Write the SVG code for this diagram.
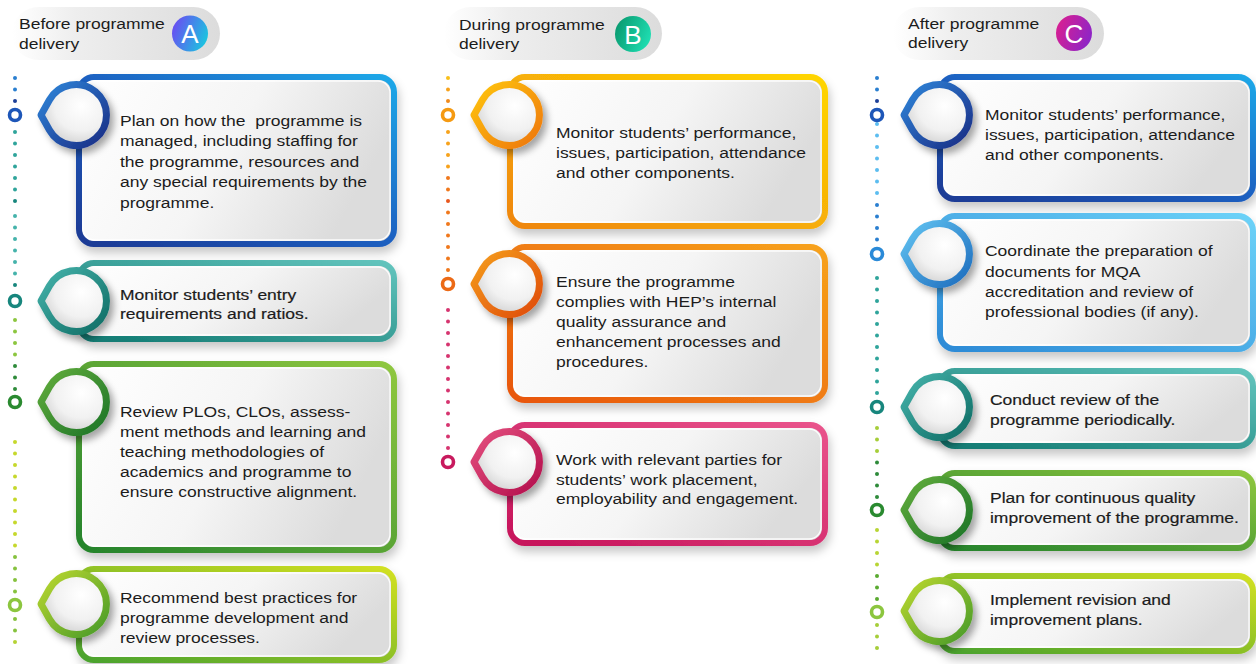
<svg xmlns="http://www.w3.org/2000/svg" xmlns:xlink="http://www.w3.org/1999/xlink" width="1256" height="664" viewBox="0 0 1256 664">
<defs>
<style>
.t{font-family:"Liberation Sans",Arial,sans-serif;font-size:15.5px;fill:#1c1c1c;transform:scaleX(1.13);transform-box:fill-box;transform-origin:0 0}
.b{stroke:#1c1c1c;stroke-width:0.2}
.card{fill:url(#cardFill);stroke-width:6;filter:url(#sh)}
.hl{fill:none;stroke:#ffffff;stroke-width:1.3;opacity:0.9}
.drop{fill:url(#dropFill);stroke-width:7;stroke-linejoin:round;filter:url(#dsh)}
.ring{fill:#ffffff;stroke-width:3.6}
.pill{fill:url(#pillFill)}
.lt{font-family:"Liberation Sans",Arial,sans-serif;font-size:26px;fill:#ffffff;text-anchor:middle}
</style>
<filter id="sh" x="-8%" y="-15%" width="120%" height="145%"><feDropShadow dx="2" dy="6" stdDeviation="5" flood-color="#000" flood-opacity="0.22"/></filter>
<filter id="dsh" x="-40%" y="-40%" width="190%" height="190%"><feDropShadow dx="4" dy="5" stdDeviation="3.5" flood-color="#000" flood-opacity="0.35"/></filter>
<linearGradient id="cardFill" x1="0" y1="0" x2="1" y2="0.3"><stop offset="0" stop-color="#ffffff"/><stop offset="0.55" stop-color="#f5f5f5"/><stop offset="1" stop-color="#dcdcdc"/></linearGradient>
<radialGradient id="dropFill" cx="0.62" cy="0.35" r="0.75"><stop offset="0" stop-color="#ffffff"/><stop offset="0.55" stop-color="#f1f1f1"/><stop offset="1" stop-color="#c8c8c8"/></radialGradient>
<linearGradient id="pillFill" x1="0" y1="0" x2="1" y2="0"><stop offset="0" stop-color="#ffffff"/><stop offset="0.3" stop-color="#eeeeee"/><stop offset="1" stop-color="#dcdcdc"/></linearGradient>
<linearGradient id="cA" x1="0" y1="0.3" x2="1" y2="0.7"><stop offset="0" stop-color="#6a4cf2"/><stop offset="1" stop-color="#19c8df"/></linearGradient>
<linearGradient id="cB" x1="0" y1="0.3" x2="1" y2="0.7"><stop offset="0" stop-color="#0a9a70"/><stop offset="1" stop-color="#1fe0b4"/></linearGradient>
<linearGradient id="cC" x1="0" y1="0.3" x2="1" y2="0.7"><stop offset="0" stop-color="#d81f92"/><stop offset="1" stop-color="#8a25c9"/></linearGradient>
<linearGradient id="gBlue" x1="0" y1="1" x2="1" y2="0"><stop offset="0" stop-color="#1b3a94"/><stop offset="0.5" stop-color="#1e5fc0"/><stop offset="1" stop-color="#1ea8e8"/></linearGradient>
<linearGradient id="dBlue" x1="0" y1="0" x2="1" y2="1"><stop offset="0" stop-color="#2f86da"/><stop offset="1" stop-color="#1a2c84"/></linearGradient>
<linearGradient id="gTeal" x1="0" y1="1" x2="1" y2="0"><stop offset="0" stop-color="#117a72"/><stop offset="1" stop-color="#62c4bd"/></linearGradient>
<linearGradient id="dTeal" x1="0" y1="0" x2="1" y2="1"><stop offset="0" stop-color="#45b3ab"/><stop offset="1" stop-color="#0f6c64"/></linearGradient>
<linearGradient id="gGreen" x1="0" y1="1" x2="1" y2="0"><stop offset="0" stop-color="#25832c"/><stop offset="1" stop-color="#8fc73f"/></linearGradient>
<linearGradient id="dGreen" x1="0" y1="0" x2="1" y2="1"><stop offset="0" stop-color="#62ad3c"/><stop offset="1" stop-color="#1c7428"/></linearGradient>
<linearGradient id="gLime" x1="0" y1="1" x2="1" y2="0"><stop offset="0" stop-color="#4aa22e"/><stop offset="1" stop-color="#d2e020"/></linearGradient>
<linearGradient id="dLime" x1="0" y1="0" x2="1" y2="1"><stop offset="0" stop-color="#bcd830"/><stop offset="1" stop-color="#479a2a"/></linearGradient>
<linearGradient id="gYel" x1="0" y1="1" x2="1" y2="0"><stop offset="0" stop-color="#ef860f"/><stop offset="1" stop-color="#ffd600"/></linearGradient>
<linearGradient id="dYel" x1="0" y1="0" x2="1" y2="1"><stop offset="0" stop-color="#ffc60f"/><stop offset="1" stop-color="#ee760c"/></linearGradient>
<linearGradient id="gOr" x1="0" y1="1" x2="1" y2="0"><stop offset="0" stop-color="#e8560c"/><stop offset="1" stop-color="#f7a21b"/></linearGradient>
<linearGradient id="dOr" x1="0" y1="0" x2="1" y2="1"><stop offset="0" stop-color="#f59e1d"/><stop offset="1" stop-color="#df4a0a"/></linearGradient>
<linearGradient id="gPink" x1="0" y1="1" x2="1" y2="0"><stop offset="0" stop-color="#c6135a"/><stop offset="1" stop-color="#e9538b"/></linearGradient>
<linearGradient id="dPink" x1="0" y1="0" x2="1" y2="1"><stop offset="0" stop-color="#e4507f"/><stop offset="1" stop-color="#b30f4c"/></linearGradient>
<linearGradient id="gSky" x1="0" y1="1" x2="1" y2="0"><stop offset="0" stop-color="#2c8ad6"/><stop offset="1" stop-color="#6cd2f8"/></linearGradient>
<linearGradient id="dSky" x1="0" y1="0" x2="1" y2="1"><stop offset="0" stop-color="#62c4f2"/><stop offset="1" stop-color="#1d6cbd"/></linearGradient>
<path id="drop" d="M-35 0L-26.6-15A30.5 30.5 0 1 1-26.6 15Z"/>
</defs>

<rect width="1256" height="664" fill="#ffffff"/>

<g id="headerA">
<rect class="pill" x="12" y="7" width="208" height="53" rx="26.5"/>
<text class="t" x="19"><tspan x="19" y="29.5">Before programme</tspan><tspan x="19" y="49">delivery</tspan></text>
<circle cx="190" cy="33.5" r="18" fill="url(#cA)"/>
<text class="lt" x="190" y="43">A</text>
</g>
<g id="headerB">
<rect class="pill" x="444" y="7" width="218" height="53" rx="26.5"/>
<text class="t" x="459"><tspan x="459" y="30">During programme</tspan><tspan x="459" y="49.5">delivery</tspan></text>
<circle cx="633" cy="34" r="18" fill="url(#cB)"/>
<text class="lt" x="633" y="43.5">B</text>
</g>
<g id="headerC">
<rect class="pill" x="893" y="7" width="211" height="53" rx="26.5"/>
<text class="t" x="908"><tspan x="908" y="29">After programme</tspan><tspan x="908" y="48.5">delivery</tspan></text>
<circle cx="1074" cy="33" r="18" fill="url(#cC)"/>
<text class="lt" x="1074" y="42.5">C</text>
</g>

<g id="connectors">
<g fill="#2a7fd0"><circle cx="15" cy="78" r="2"/><circle cx="15" cy="89.5" r="2"/><circle cx="15" cy="101" r="2" fill="#1d3f98"/></g>
<g fill="#2fa49b"><circle cx="15" cy="132" r="2"/><circle cx="15" cy="143.5" r="2"/><circle cx="15" cy="155" r="2"/><circle cx="15" cy="166.5" r="2"/><circle cx="15" cy="178" r="2"/><circle cx="15" cy="189.5" r="2"/><circle cx="15" cy="201" r="2" fill="#17867d"/></g>
<g fill="#45b3ab"><circle cx="15" cy="216" r="2"/><circle cx="15" cy="227.5" r="2"/><circle cx="15" cy="239" r="2"/><circle cx="15" cy="250.5" r="2"/><circle cx="15" cy="262" r="2"/><circle cx="15" cy="273.5" r="2"/><circle cx="15" cy="285" r="2" fill="#17867d"/></g>
<g fill="#8cc63f"><circle cx="15" cy="320" r="2"/><circle cx="15" cy="331.5" r="2"/><circle cx="15" cy="343" r="2"/><circle cx="15" cy="354.5" r="2"/></g>
<g fill="#2e8b3a"><circle cx="15" cy="366" r="2"/><circle cx="15" cy="377.5" r="2"/><circle cx="15" cy="389" r="2"/></g>
<g fill="#c6d82c"><circle cx="15" cy="442" r="2"/><circle cx="15" cy="453.5" r="2"/><circle cx="15" cy="465" r="2"/><circle cx="15" cy="476.5" r="2"/><circle cx="15" cy="488" r="2"/><circle cx="15" cy="499.5" r="2"/><circle cx="15" cy="511" r="2"/><circle cx="15" cy="522.5" r="2"/><circle cx="15" cy="534" r="2"/><circle cx="15" cy="545.5" r="2"/></g>
<g fill="#86c23e"><circle cx="15" cy="557" r="2"/><circle cx="15" cy="568.5" r="2"/><circle cx="15" cy="580" r="2"/><circle cx="15" cy="591.5" r="2"/><circle cx="15" cy="619" r="2"/><circle cx="15" cy="630.5" r="2"/><circle cx="15" cy="642" r="2" fill="#b5d334"/></g>
<circle class="ring" cx="15" cy="115" r="5.5" stroke="#1d56b8"/>
<circle class="ring" cx="15" cy="301" r="5.5" stroke="#17867d"/>
<circle class="ring" cx="15" cy="402" r="5.5" stroke="#2a8a30"/>
<circle class="ring" cx="15" cy="605" r="5.5" stroke="#8cc63f"/>

<g fill="#f9c01a"><circle cx="448" cy="78" r="2"/><circle cx="448" cy="89.5" r="2" fill="#f7a21b"/><circle cx="448" cy="101" r="2" fill="#f08a1a"/></g>
<g fill="#f7a21b"><circle cx="448" cy="132" r="2"/><circle cx="448" cy="143.5" r="2"/><circle cx="448" cy="155" r="2"/><circle cx="448" cy="166.5" r="2"/></g>
<g fill="#f0781c"><circle cx="448" cy="178" r="2"/><circle cx="448" cy="189.5" r="2"/><circle cx="448" cy="201" r="2" fill="#e8561c"/><circle cx="448" cy="212.5" r="2"/><circle cx="448" cy="224" r="2"/><circle cx="448" cy="235.5" r="2"/><circle cx="448" cy="247" r="2"/><circle cx="448" cy="258.5" r="2"/><circle cx="448" cy="270" r="2"/></g>
<g fill="#d6346f"><circle cx="448" cy="310" r="2"/><circle cx="448" cy="321.5" r="2"/><circle cx="448" cy="333" r="2"/><circle cx="448" cy="344.5" r="2"/><circle cx="448" cy="356" r="2"/><circle cx="448" cy="367.5" r="2"/><circle cx="448" cy="379" r="2"/><circle cx="448" cy="390.5" r="2"/><circle cx="448" cy="402" r="2"/><circle cx="448" cy="413.5" r="2"/><circle cx="448" cy="425" r="2"/><circle cx="448" cy="436.5" r="2"/><circle cx="448" cy="448" r="2"/></g>
<circle class="ring" cx="448" cy="115" r="5.5" stroke="#f59a12"/>
<circle class="ring" cx="448" cy="284" r="5.5" stroke="#ec6a16"/>
<circle class="ring" cx="448" cy="462" r="5.5" stroke="#c81a5e"/>

<g fill="#2a7fd0"><circle cx="877" cy="78" r="2"/><circle cx="877" cy="89.5" r="2"/><circle cx="877" cy="101" r="2" fill="#1d3f98"/></g>
<g fill="#5cbdf0"><circle cx="877" cy="124" r="2"/><circle cx="877" cy="135.5" r="2"/><circle cx="877" cy="147" r="2"/><circle cx="877" cy="158.5" r="2"/><circle cx="877" cy="170" r="2"/><circle cx="877" cy="181.5" r="2"/><circle cx="877" cy="193" r="2"/></g>
<g fill="#2a7fd0"><circle cx="877" cy="205" r="2"/><circle cx="877" cy="216.5" r="2"/><circle cx="877" cy="228" r="2"/><circle cx="877" cy="239.5" r="2"/></g>
<g fill="#2fa49b"><circle cx="877" cy="278" r="2"/><circle cx="877" cy="289.5" r="2"/><circle cx="877" cy="301" r="2"/><circle cx="877" cy="312.5" r="2"/><circle cx="877" cy="324" r="2"/><circle cx="877" cy="335.5" r="2"/><circle cx="877" cy="347" r="2"/><circle cx="877" cy="358.5" r="2"/><circle cx="877" cy="370" r="2"/><circle cx="877" cy="381.5" r="2"/><circle cx="877" cy="393" r="2"/></g>
<g fill="#a6ce39"><circle cx="877" cy="428" r="2"/><circle cx="877" cy="439.5" r="2"/><circle cx="877" cy="451" r="2"/></g>
<g fill="#2e8b3a"><circle cx="877" cy="462.5" r="2"/><circle cx="877" cy="474" r="2"/><circle cx="877" cy="485.5" r="2"/><circle cx="877" cy="497" r="2"/></g>
<g fill="#b8d534"><circle cx="877" cy="530" r="2"/><circle cx="877" cy="541.5" r="2"/><circle cx="877" cy="553" r="2"/><circle cx="877" cy="564.5" r="2"/></g>
<g fill="#5aaa30"><circle cx="877" cy="576" r="2"/><circle cx="877" cy="587.5" r="2"/><circle cx="877" cy="599" r="2"/></g>
<g fill="#a6ce39"><circle cx="877" cy="625" r="2"/><circle cx="877" cy="636.5" r="2"/><circle cx="877" cy="648" r="2"/></g>
<circle class="ring" cx="877" cy="115" r="5.5" stroke="#1d56b8"/>
<circle class="ring" cx="877" cy="254" r="5.5" stroke="#2a8ad8"/>
<circle class="ring" cx="877" cy="407" r="5.5" stroke="#17867d"/>
<circle class="ring" cx="877" cy="510" r="5.5" stroke="#2a8a30"/>
<circle class="ring" cx="877" cy="612" r="5.5" stroke="#8cc63f"/>
</g>

<g id="cardA1">
<rect class="card" x="79" y="77" width="315" height="167" rx="15" stroke="url(#gBlue)"/>
<rect class="hl" x="83" y="81" width="307" height="159" rx="12"/>
<use href="#drop" class="drop" transform="translate(76,115)" stroke="url(#dBlue)"/>
<text class="t" x="120"><tspan x="120" y="126">Plan on how the &#160;programme is</tspan><tspan x="120" y="146.5">managed, including staffing for</tspan><tspan x="120" y="167">the programme, resources and</tspan><tspan x="120" y="187.5">any special requirements by the</tspan><tspan x="120" y="208">programme.</tspan></text>
</g>
<g id="cardA2">
<rect class="card" x="79" y="263" width="315" height="76" rx="15" stroke="url(#gTeal)"/>
<rect class="hl" x="83" y="267" width="307" height="68" rx="12"/>
<use href="#drop" class="drop" transform="translate(76,301)" stroke="url(#dTeal)"/>
<text class="t b" x="120"><tspan x="120" y="300">Monitor students’ entry</tspan><tspan x="120" y="319.5">requirements and ratios.</tspan></text>
</g>
<g id="cardA3">
<rect class="card" x="79" y="364" width="315" height="186" rx="15" stroke="url(#gGreen)"/>
<rect class="hl" x="83" y="368" width="307" height="178" rx="12"/>
<use href="#drop" class="drop" transform="translate(76,402)" stroke="url(#dGreen)"/>
<text class="t" x="120"><tspan x="120" y="417">Review PLOs, CLOs, assess-</tspan><tspan x="120" y="437">ment methods and learning and</tspan><tspan x="120" y="457">teaching methodologies of</tspan><tspan x="120" y="477">academics and programme to</tspan><tspan x="120" y="497">ensure constructive alignment.</tspan></text>
</g>
<g id="cardA4">
<rect class="card" x="79" y="569" width="315" height="91" rx="15" stroke="url(#gLime)"/>
<rect class="hl" x="83" y="573" width="307" height="83" rx="12"/>
<use href="#drop" class="drop" transform="translate(76,604)" stroke="url(#dLime)"/>
<text class="t" x="120"><tspan x="120" y="603">Recommend best practices for</tspan><tspan x="120" y="623">programme development and</tspan><tspan x="120" y="643">review processes.</tspan></text>
</g>

<g id="cardB1">
<rect class="card" x="510" y="77" width="315" height="149" rx="15" stroke="url(#gYel)"/>
<rect class="hl" x="514" y="81" width="307" height="141" rx="12"/>
<use href="#drop" class="drop" transform="translate(509,115)" stroke="url(#dYel)"/>
<text class="t" x="556"><tspan x="556" y="138.5">Monitor students’ performance,</tspan><tspan x="556" y="158.5">issues, participation, attendance</tspan><tspan x="556" y="178.5">and other components.</tspan></text>
</g>
<g id="cardB2">
<rect class="card" x="510" y="247" width="315" height="153" rx="15" stroke="url(#gOr)"/>
<rect class="hl" x="514" y="251" width="307" height="145" rx="12"/>
<use href="#drop" class="drop" transform="translate(509,284)" stroke="url(#dOr)"/>
<text class="t" x="556"><tspan x="556" y="287.5">Ensure the programme</tspan><tspan x="556" y="307.5">complies with HEP’s internal</tspan><tspan x="556" y="327.5">quality assurance and</tspan><tspan x="556" y="347.5">enhancement processes and</tspan><tspan x="556" y="367.5">procedures.</tspan></text>
</g>
<g id="cardB3">
<rect class="card" x="510" y="425" width="315" height="118" rx="15" stroke="url(#gPink)"/>
<rect class="hl" x="514" y="429" width="307" height="110" rx="12"/>
<use href="#drop" class="drop" transform="translate(509,462)" stroke="url(#dPink)"/>
<text class="t" x="556"><tspan x="556" y="465">Work with relevant parties for</tspan><tspan x="556" y="485">students’ work placement,</tspan><tspan x="556" y="504.5">employability and engagement.</tspan></text>
</g>

<g id="cardC1">
<rect class="card" x="940" y="77" width="313" height="122" rx="15" stroke="url(#gBlue)"/>
<rect class="hl" x="944" y="81" width="305" height="114" rx="12"/>
<use href="#drop" class="drop" transform="translate(939,115)" stroke="url(#dBlue)"/>
<text class="t" x="985"><tspan x="985" y="120">Monitor students’ performance,</tspan><tspan x="985" y="140">issues, participation, attendance</tspan><tspan x="985" y="160.5">and other components.</tspan></text>
</g>
<g id="cardC2">
<rect class="card" x="940" y="216" width="313" height="133" rx="15" stroke="url(#gSky)"/>
<rect class="hl" x="944" y="220" width="305" height="125" rx="12"/>
<use href="#drop" class="drop" transform="translate(939,254)" stroke="url(#dSky)"/>
<text class="t" x="985"><tspan x="985" y="256.5">Coordinate the preparation of</tspan><tspan x="985" y="277">documents for MQA</tspan><tspan x="985" y="297">accreditation and review of</tspan><tspan x="985" y="317.5">professional bodies (if any).</tspan></text>
</g>
<g id="cardC3">
<rect class="card" x="940" y="371" width="313" height="75" rx="15" stroke="url(#gTeal)"/>
<rect class="hl" x="944" y="375" width="305" height="67" rx="12"/>
<use href="#drop" class="drop" transform="translate(939,407)" stroke="url(#dTeal)"/>
<text class="t b" x="990"><tspan x="990" y="405">Conduct review of the</tspan><tspan x="990" y="425.5">programme periodically.</tspan></text>
</g>
<g id="cardC4">
<rect class="card" x="940" y="473" width="313" height="75" rx="15" stroke="url(#gGreen)"/>
<rect class="hl" x="944" y="477" width="305" height="67" rx="12"/>
<use href="#drop" class="drop" transform="translate(939,510)" stroke="url(#dGreen)"/>
<text class="t b" x="990"><tspan x="990" y="503">Plan for continuous quality</tspan><tspan x="990" y="523.5">improvement of the programme.</tspan></text>
</g>
<g id="cardC5">
<rect class="card" x="940" y="576" width="313" height="75" rx="15" stroke="url(#gLime)"/>
<rect class="hl" x="944" y="580" width="305" height="67" rx="12"/>
<use href="#drop" class="drop" transform="translate(939,611)" stroke="url(#dLime)"/>
<text class="t b" x="990"><tspan x="990" y="605.5">Implement revision and</tspan><tspan x="990" y="625.5">improvement plans.</tspan></text>
</g>
</svg>
